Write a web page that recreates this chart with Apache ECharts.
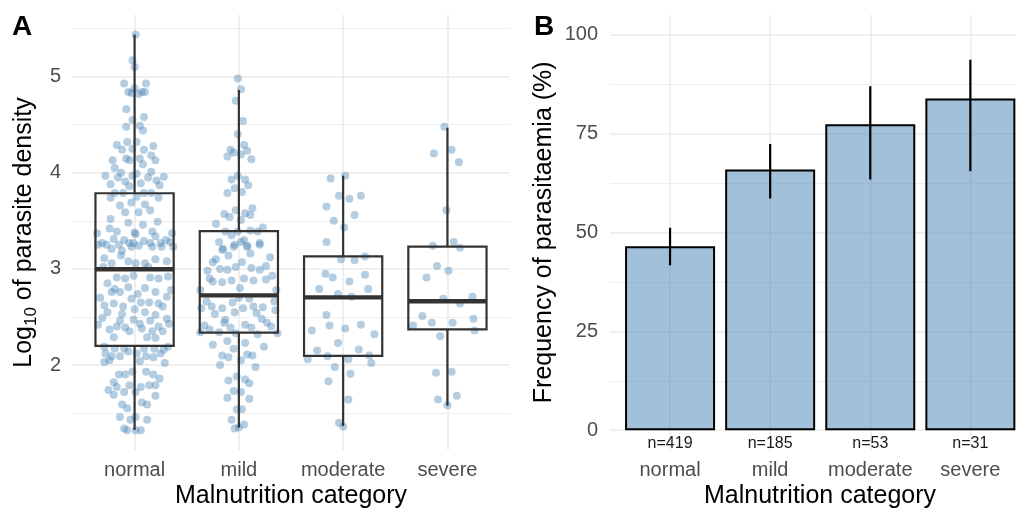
<!DOCTYPE html>
<html>
<head>
<meta charset="utf-8">
<script src="https://cdn.jsdelivr.net/npm/echarts@6/dist/echarts.min.js"></script>
<style>
html,body{margin:0;padding:0;background:#fff;}
#chart{width:1016px;height:510px;}
</style>
</head>
<body>
<div id="chart"></div>
<script>
// ---------- DATA ----------
const categories = ['normal', 'mild', 'moderate', 'severe'];

// Panel A: jittered points, [jitter offset from category centre, log10 parasite density]
const normalPts = [
[0.01,5.44],[-0.02,5.17],[0.00,5.10],[-0.10,4.93],[0.11,4.93],[-0.06,4.84],[-0.03,4.83],[0.00,4.88],[0.04,4.82],[0.07,4.84],[0.10,4.84],
[-0.08,4.66],[-0.02,4.55],[0.09,4.58],[-0.08,4.48],[0.05,4.49],[0.08,4.44],[0.02,4.32],[-0.07,4.32],[-0.17,4.29],[-0.12,4.24],[-0.02,4.25],
[0.09,4.24],[0.18,4.28],[0.16,4.18],[0.20,4.13],[-0.08,4.15],[-0.05,4.13],[0.05,4.15],[0.08,4.09],[-0.21,4.13],[-0.19,4.05],[-0.28,3.97],
[-0.13,4.00],[-0.16,3.95],[-0.09,3.91],[-0.02,3.97],[0.02,3.99],[-0.23,3.88],[-0.05,3.86],[0.06,3.89],[0.13,3.95],[0.16,4.01],[0.21,3.92],
[0.24,3.87],[0.28,3.96],[-0.19,3.79],[-0.11,3.79],[0.09,3.79],[0.16,3.79],
[-0.23,3.74],[0.02,3.75],[0.23,3.74],[-0.14,3.66],[-0.03,3.69],[0.10,3.67],[-0.09,3.59],[0.04,3.59],[0.15,3.61],[-0.23,3.52],[0.22,3.49],
[-0.06,3.48],[0.08,3.46],[-0.36,3.37],[-0.24,3.42],[-0.17,3.39],[0.00,3.38],[0.01,3.36],[0.17,3.39],[0.36,3.37],[-0.20,3.31],[-0.10,3.30],
[-0.01,3.27],[0.09,3.29],[0.20,3.34],[0.30,3.30],[-0.31,3.27],[-0.27,3.25],[-0.15,3.25],[-0.05,3.27],[0.04,3.24],[0.15,3.27],[0.25,3.27],
[0.34,3.28],[0.37,3.23],[-0.35,3.25],[-0.22,3.21],[-0.12,3.19],[-0.03,3.23],[0.17,3.23],[0.26,3.23],[-0.29,3.11],[-0.06,3.08],[0.01,3.06],
[0.10,3.06],[0.20,3.10],[-0.22,3.06],[0.31,3.08],[-0.13,3.14],[0.13,3.02],[-0.30,3.02],
[-0.26,2.85],[-0.17,2.91],[-0.09,2.90],[-0.01,2.93],[0.15,2.91],[0.23,2.90],[0.32,2.92],[-0.22,2.76],[-0.14,2.76],[-0.06,2.81],[0.03,2.74],
[0.10,2.80],[0.20,2.76],[0.31,2.71],[-0.19,2.79],[-0.29,2.62],[-0.20,2.64],[-0.11,2.61],[-0.03,2.69],[0.06,2.65],[0.14,2.65],[0.23,2.64],
[0.27,2.61],[-0.31,2.49],[-0.01,2.47],[0.31,2.48],[-0.24,2.37],[-0.17,2.40],[-0.09,2.39],[0.07,2.38],[0.23,2.40],[0.17,2.35],[-0.05,2.35],
[-0.20,2.29],[0.12,2.29],[0.20,2.28],[0.27,2.35],[-0.33,2.70],[0.35,2.78],[-0.12,2.53],[0.10,2.55],[-0.26,2.55],[0.20,2.52],[0.00,2.58],
[-0.35,2.42],[0.33,2.43],[0.05,2.43],[-0.14,2.46],[0.15,2.46],
[-0.29,2.19],[-0.28,2.12],[-0.22,2.09],[-0.19,2.17],[-0.14,2.09],[-0.10,2.17],[-0.06,2.14],[0.02,2.12],[0.09,2.17],[0.11,2.09],[0.18,2.08],
[0.19,2.17],[0.25,2.12],[0.28,2.16],[0.32,2.19],[0.29,2.02],[-0.29,2.03],[-0.15,1.90],[-0.09,1.90],[-0.02,1.93],[0.11,1.93],[0.18,1.90],
[-0.20,1.82],[-0.17,1.77],[-0.05,1.79],[0.06,1.77],[0.14,1.79],[0.20,1.79],[-0.20,1.69],[-0.10,1.72],[0.01,1.72],[0.20,1.68],[-0.12,1.59],
[-0.07,1.55],[0.07,1.61],[0.12,1.59],[-0.14,1.46],[-0.04,1.43],[0.12,1.43],[0.01,1.46],[-0.10,1.34],[-0.07,1.32],[0.01,1.32],[0.06,1.32],
[-0.24,2.05],[0.05,2.04],[0.24,1.86],[-0.25,1.74]
];
const mildPts = [
[-0.01,4.98],[0.02,4.87],[-0.03,4.75],[0.04,4.54],[-0.01,4.40],[0.05,4.29],[-0.08,4.24],[-0.05,4.21],[-0.11,4.17],[0.02,4.19],[0.08,4.23],
[0.12,4.14],[-0.01,3.97],[-0.07,3.93],[0.06,3.93],[0.09,3.87],[-0.04,3.84],[0.03,3.80],[-0.11,3.79],[-0.03,3.61],[0.13,3.63],[-0.14,3.57],
[-0.09,3.54],[0.06,3.58],[0.11,3.56],[0.02,3.51],[-0.22,3.47],[-0.13,3.39],[-0.01,3.39],[0.11,3.40],[0.18,3.39],[0.23,3.43],
[-0.07,3.35],[-0.19,3.28],[0.05,3.30],[0.20,3.27],[-0.04,3.25],[0.08,3.24],[-0.15,3.21],[-0.16,3.20],[-0.10,3.14],[-0.05,3.23],[0.08,3.23],
[0.11,3.16],[0.20,3.25],[-0.25,3.07],[-0.18,3.00],[-0.11,2.99],[-0.03,3.02],[0.03,3.07],[0.12,3.01],[0.20,2.99],[0.26,3.03],[-0.28,2.90],
[-0.25,2.87],[-0.16,2.86],[-0.07,2.88],[0.05,2.90],[0.14,2.88],[0.26,2.89],[-0.37,2.78],[0.01,2.80],[0.36,2.78],[-0.31,2.66],[-0.26,2.61],
[-0.16,2.59],[-0.06,2.65],[-0.04,2.55],[0.04,2.59],[0.14,2.61],[0.17,2.54],[0.23,2.60],[0.34,2.66],[-0.36,2.59],[-0.23,2.53],[0.35,2.57],
[-0.33,2.41],[-0.28,2.37],[-0.14,2.44],[-0.08,2.39],[0.06,2.42],[0.12,2.39],[0.27,2.44],[0.31,2.40],[-0.37,2.34],[-0.19,2.34],[-0.03,2.33],
[0.18,2.32],[0.37,2.33],[-0.22,3.10],[0.30,3.12],[0.00,2.70],[-0.13,2.47],[0.22,2.48],[0.10,2.69],[-0.30,2.98],[0.32,2.93],[0.02,3.28],
[-0.25,2.21],[-0.11,2.25],[-0.05,2.17],[0.06,2.23],[-0.16,2.10],[-0.10,2.08],[0.02,2.05],[0.08,2.11],[0.13,2.10],[0.24,2.19],[0.16,1.98],
[-0.18,2.00],[-0.02,1.88],[-0.10,1.84],[0.06,1.85],[0.10,1.81],[-0.05,1.73],[-0.11,1.66],[0.02,1.72],[0.10,1.65],[-0.02,1.54],[0.03,1.54],
[-0.07,1.43],[0.05,1.38],[-0.04,1.34],[0.00,1.35]
];
const moderatePts = [
[-0.12,3.94],[0.02,3.97],[-0.16,3.65],[-0.04,3.76],[0.06,3.73],[0.17,3.76],[-0.09,3.50],[0.11,3.56],[0.01,3.43],[-0.16,3.28],[-0.02,3.10],
[0.11,3.09],[0.21,3.13],[-0.17,2.95],[-0.10,2.91],[0.06,2.87],[0.21,2.94],[-0.23,2.79],[-0.05,2.74],[0.08,2.71],[0.24,2.79],[-0.16,2.52],
[-0.30,2.36],[-0.13,2.41],[0.02,2.38],[0.17,2.42],[0.30,2.32],[-0.05,2.23],[-0.25,2.15],[0.15,2.16],[-0.34,2.06],[-0.15,2.09],[0.05,2.06],
[0.25,2.10],[0.27,2.02],[-0.08,1.98],[0.07,1.91],[-0.14,1.83],[0.05,1.64],[-0.04,1.40],[0.00,1.36]
];
const severePts = [
[-0.03,4.48],[-0.13,4.20],[0.04,4.24],[0.11,4.11],[-0.01,3.61],[-0.14,3.24],[0.06,3.28],[0.12,3.22],[-0.10,3.03],[0.01,2.98],[-0.20,2.91],
[-0.04,2.69],[0.24,2.71],[0.12,2.64],[-0.24,2.51],[0.25,2.48],[-0.33,2.41],[-0.15,2.44],[0.05,2.44],[0.26,2.36],[-0.07,2.30],[-0.11,1.92],
[0.04,1.93],[-0.09,1.64],[0.09,1.68],[0.00,1.58]
];

// Panel A: box-plot statistics
const boxQ1 = [2.20, 2.336, 2.094, 2.371];
const boxMedian = [2.996, 2.725, 2.704, 2.663];
const boxQ3 = [3.787, 3.394, 3.131, 3.231];
const whiskerLow = [1.324, 1.348, 1.365, 1.576];
const whiskerHigh = [5.437, 4.862, 3.970, 4.469];

// Panel B: frequency of parasitaemia (%) with 95% CI
const freqPct = [46.5, 65.9, 77.4, 83.9];
const ciLow = [41.7, 58.6, 63.4, 65.5];
const ciHigh = [51.2, 72.4, 87.0, 93.7];
const nLabels = ['n=419', 'n=185', 'n=53', 'n=31'];
const nLabelY = -3.3;

// tick values
const catTicks = [1, 2, 3, 4];
const yTicksA = [2, 3, 4, 5];
const yMinorA = [1.5, 2.5, 3.5, 4.5, 5.5];
const yTicksB = [0, 25, 50, 75, 100];
const yMinorB = [12.5, 37.5, 62.5, 87.5];

// ---------- CHART ----------
const FONT = '"Liberation Sans", Arial, Helvetica, sans-serif';
const GRID_C = '#EBEBEB';
const PT_C = 'rgba(70,130,180,0.5)';
const BOX_C = '#333333';

const chart = echarts.init(document.getElementById('chart'), null, {renderer: 'canvas'});

const ptsAll = [normalPts, mildPts, moderatePts, severePts];
const scatterData = [];
ptsAll.forEach((arr, i) => arr.forEach(p => scatterData.push([i + 1 + p[0], p[1]])));

const boxData = categories.map((c, i) => [i + 1, boxQ1[i], boxMedian[i], boxQ3[i], whiskerLow[i], whiskerHigh[i]]);
const barData = categories.map((c, i) => [i + 1, freqPct[i]]);
const ciData = categories.map((c, i) => [i + 1, ciLow[i], ciHigh[i]]);
const nData = categories.map((c, i) => [i + 1, nLabelY]);

function measure(text, font) {
  const ctx = document.createElement('canvas').getContext('2d');
  ctx.font = font;
  return ctx.measureText(text).width;
}

function xAxisCfg(gi, max) {
  return {
    gridIndex: gi, type: 'value', min: 0.4, max: max,
    axisLine: {show: false},
    axisTick: {show: false, customValues: catTicks},
    axisLabel: {customValues: catTicks, formatter: v => categories[Math.round(v) - 1] || '',
      color: '#4D4D4D', fontSize: 20, fontFamily: FONT, margin: 10},
    splitLine: {show: true, lineStyle: {color: GRID_C, width: 1.6}}
  };
}
function yAxisCfg(gi, min, max, ticks, showLabel, width, margin) {
  return {
    gridIndex: gi, type: 'value', min: min, max: max, position: 'left',
    axisLine: {show: false},
    axisTick: {show: false, customValues: ticks},
    axisLabel: {show: showLabel, customValues: ticks, color: '#4D4D4D', fontSize: 20, fontFamily: FONT, margin: margin},
    splitLine: {show: true, lineStyle: {color: GRID_C, width: width}}
  };
}

// y-axis title A with subscript
const mainFont = '25px ' + FONT;
const subFont = '17px ' + FONT;
const wLog = measure('Log', mainFont);
const w10 = measure('10', subFont);
const wRest = measure(' of parasite density', mainFont);
const wTot = wLog + w10 + wRest;
const x0 = -wTot / 2;

const option = {
  animation: false,
  backgroundColor: '#fff',
  grid: [
    {left: 72, top: 15, width: 438, height: 435},
    {left: 610, top: 15, width: 406, height: 435}
  ],
  // panel B is cut at the right edge of the image (range 0.4–4.6 at 100.1 px/unit)
  xAxis: [xAxisCfg(0, 4.6), xAxisCfg(1, 4.456)],
  yAxis: [
    yAxisCfg(0, 1.1155, 5.642, yTicksA, true, 1.6, 11),
    yAxisCfg(0, 1.1155, 5.642, yMinorA, false, 0.8, 11),
    yAxisCfg(1, -5, 105, yTicksB, true, 1.6, 12),
    yAxisCfg(1, -5, 105, yMinorB, false, 0.8, 12)
  ],
  series: [
    {
      type: 'scatter', xAxisIndex: 0, yAxisIndex: 0, data: scatterData,
      symbolSize: 8, itemStyle: {color: PT_C}, z: 2, silent: true
    },
    {
      type: 'custom', xAxisIndex: 0, yAxisIndex: 0, data: boxData, z: 3, silent: true,
      renderItem: function (params, api) {
        const x = api.value(0);
        const hw = api.size([0.75, 0])[0] / 2;
        const pq1 = api.coord([x, api.value(1)]);
        const pm = api.coord([x, api.value(2)]);
        const pq3 = api.coord([x, api.value(3)]);
        const plo = api.coord([x, api.value(4)]);
        const phi = api.coord([x, api.value(5)]);
        const cx = pm[0];
        const ls = {stroke: BOX_C, lineWidth: 2.2, fill: null};
        return {
          type: 'group',
          children: [
            {type: 'line', shape: {x1: cx, y1: phi[1], x2: cx, y2: pq3[1]}, style: ls},
            {type: 'line', shape: {x1: cx, y1: pq1[1], x2: cx, y2: plo[1]}, style: ls},
            {type: 'rect', shape: {x: cx - hw, y: pq3[1], width: 2 * hw, height: pq1[1] - pq3[1]}, style: {stroke: BOX_C, lineWidth: 2.2, fill: 'none'}},
            {type: 'line', shape: {x1: cx - hw, y1: pm[1], x2: cx + hw, y2: pm[1]}, style: {stroke: BOX_C, lineWidth: 4.4}}
          ]
        };
      }
    },
    {
      type: 'bar', xAxisIndex: 1, yAxisIndex: 2, data: barData, barWidth: 90,
      itemStyle: {color: PT_C, borderColor: '#000', borderWidth: 2}, z: 2, silent: true
    },
    {
      type: 'custom', xAxisIndex: 1, yAxisIndex: 2, data: ciData, z: 4, silent: true,
      renderItem: function (params, api) {
        const x = api.value(0);
        const p1 = api.coord([x, api.value(1)]);
        const p2 = api.coord([x, api.value(2)]);
        return {type: 'line', shape: {x1: p1[0], y1: p1[1], x2: p2[0], y2: p2[1]}, style: {stroke: '#000', lineWidth: 2.2}};
      }
    },
    {
      type: 'custom', xAxisIndex: 1, yAxisIndex: 2, data: nData, z: 4, silent: true,
      renderItem: function (params, api) {
        const p = api.coord([api.value(0), api.value(1)]);
        return {type: 'text', x: p[0], y: p[1], style: {text: nLabels[params.dataIndex], fontSize: 16, fontFamily: FONT, fill: '#1a1a1a', align: 'center', verticalAlign: 'middle'}};
      }
    }
  ],
  graphic: [
    {type: 'text', left: 12, top: 13, style: {text: 'A', font: 'bold 28px ' + FONT, fill: '#000'}},
    {type: 'text', left: 534, top: 13, style: {text: 'B', font: 'bold 28px ' + FONT, fill: '#000'}},
    {type: 'text', x: 291, y: 496, style: {text: 'Malnutrition category', font: mainFont, fill: '#000', align: 'center', verticalAlign: 'middle'}},
    {type: 'text', x: 820, y: 496, style: {text: 'Malnutrition category', font: mainFont, fill: '#000', align: 'center', verticalAlign: 'middle'}},
    {
      type: 'group', x: 24.5, y: 232.5, rotation: Math.PI / 2,
      children: [
        {type: 'text', x: x0, y: 0, style: {text: 'Log', font: mainFont, fill: '#000', align: 'left', verticalAlign: 'middle'}},
        {type: 'text', x: x0 + wLog, y: 6.5, style: {text: '10', font: subFont, fill: '#000', align: 'left', verticalAlign: 'middle'}},
        {type: 'text', x: x0 + wLog + w10, y: 0, style: {text: ' of parasite density', font: mainFont, fill: '#000', align: 'left', verticalAlign: 'middle'}}
      ]
    },
    {
      type: 'group', x: 544.6, y: 232.3, rotation: Math.PI / 2,
      children: [
        {type: 'text', x: 0, y: 0, style: {text: 'Frequency of parasitaemia (%)', font: mainFont, fill: '#000', align: 'center', verticalAlign: 'middle'}}
      ]
    }
  ]
};
chart.setOption(option);
</script>
</body>
</html>
